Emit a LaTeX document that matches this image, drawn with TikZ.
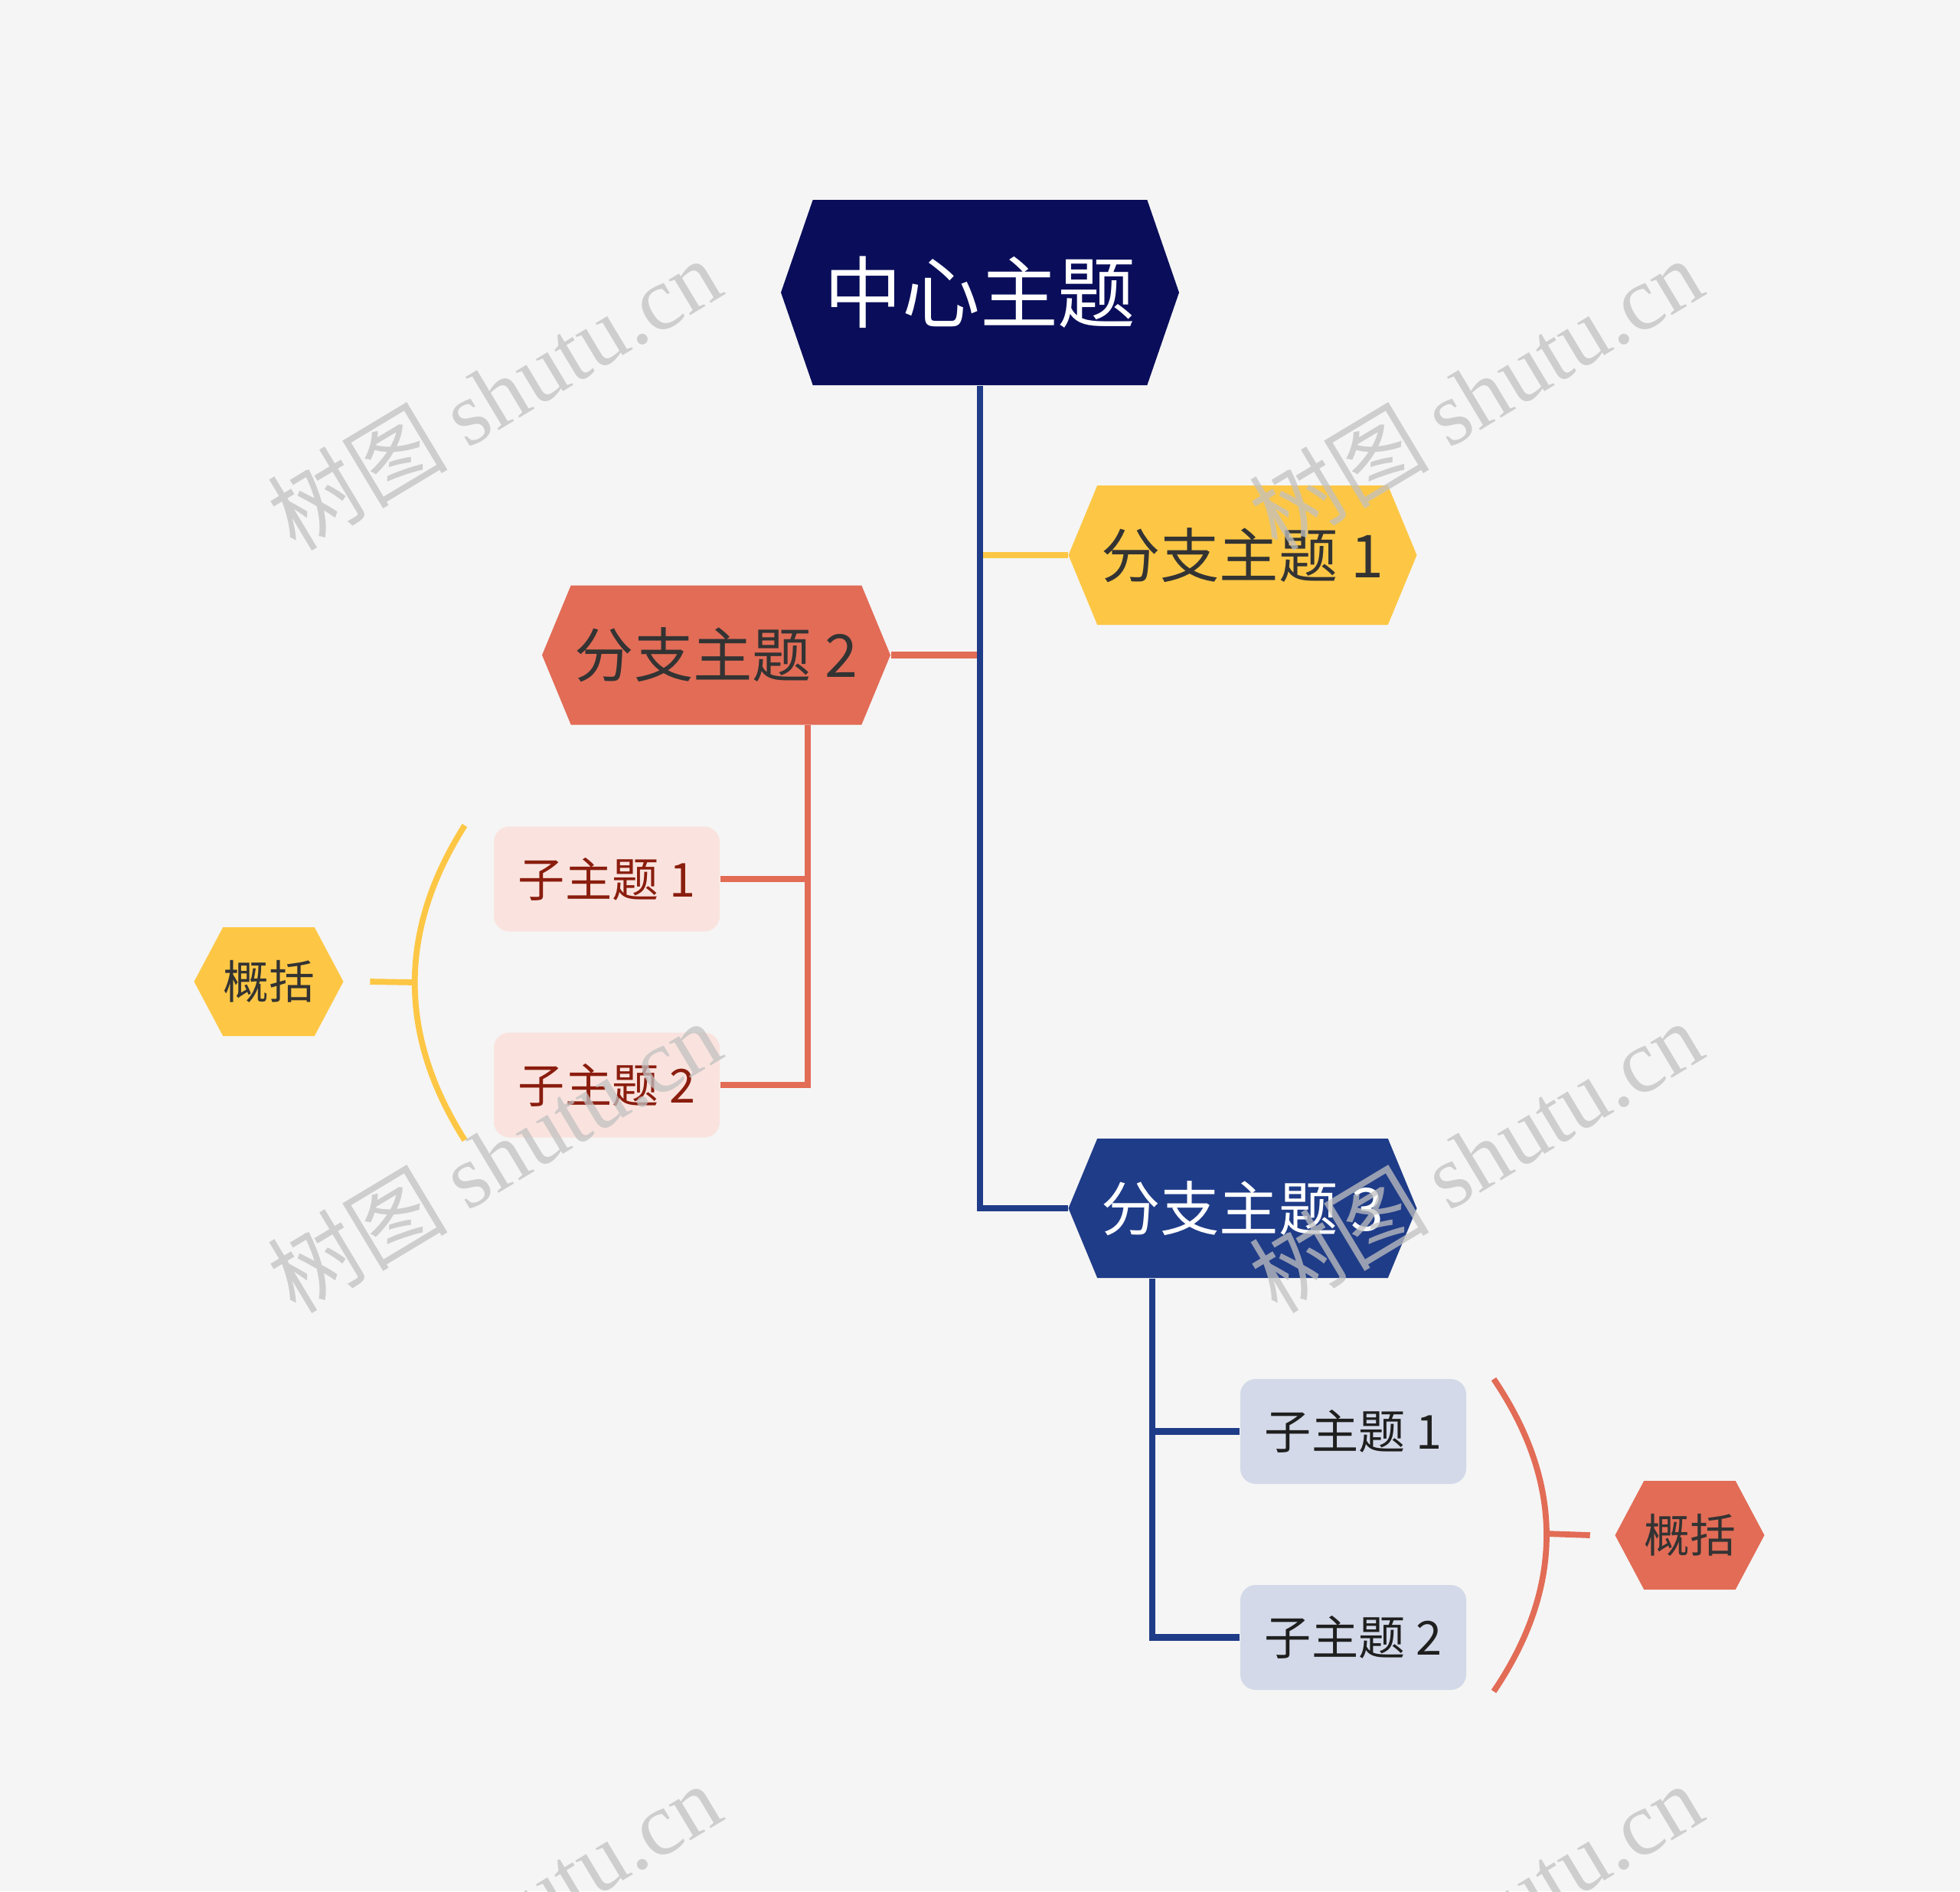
\documentclass[tikz,border=0pt]{standalone}
\usepackage{fontspec}
\setmainfont{Noto Sans CJK SC}
\newfontfamily\wmserif{Liberation Serif}
\usetikzlibrary{shapes.symbols,calc}

\definecolor{bgpage}{HTML}{F5F5F5}
\definecolor{navy}{HTML}{0A0E5A}
\definecolor{royal}{HTML}{1F3C88}
\definecolor{amber}{HTML}{FDC745}
\definecolor{coral}{HTML}{E26C56}
\definecolor{blush}{HTML}{FAE3DE}
\definecolor{mist}{HTML}{D3D9E8}
\definecolor{rust}{HTML}{8A1D0E}
\definecolor{ink}{HTML}{333333}
\definecolor{wmgray}{HTML}{C1C1C1}

\begin{document}
\begin{tikzpicture}[
  hexa/.style={signal, signal to=east and west, inner sep=0pt, draw=none},
  root/.style={hexa, fill=navy, text=white, minimum width=5.2cm, minimum height=2.42cm,
               signal pointer angle=142, font=\fontsize{29}{29}\selectfont},
  main/.style={hexa, minimum width=4.55cm, minimum height=1.82cm,
               signal pointer angle=135, font=\fontsize{22}{22}\selectfont},
  sub/.style={rectangle, rounded corners=0.2cm, minimum width=2.95cm, minimum height=1.37cm,
              inner sep=0pt, font=\fontsize{17.4}{17.4}\selectfont},
  sum/.style={hexa, minimum width=1.86cm, minimum height=1.42cm,
              signal pointer angle=124, text=ink, font=\fontsize{17}{17}\selectfont},
  ln/.style={line width=2.5pt},
  brace/.style={line width=2.2pt},
  wmark/.style={text=wmgray, text opacity=0.75, rotate=31, inner sep=0pt,
                font=\fontsize{33.5}{33.5}\selectfont}
]
\clip (0,0) rectangle (25.6,-24.7);
\fill[bgpage] (0,0) rectangle (25.6,-24.7);

% topics
\node[root] (hub) at (12.80,-3.82) {中心主题};
\node[main, fill=amber, text=ink]   (b1) at (16.23,-7.25)  {分支主题 1};
\node[main, fill=coral, text=ink]   (b2) at (9.355,-8.555) {分支主题 2};
\node[main, fill=royal, text=white] (b3) at (16.23,-15.78) {分支主题 3};

\node[sub, fill=blush, text=rust]    (b2k1) at (7.925,-11.48)  {子主题 1};
\node[sub, fill=blush, text=rust]    (b2k2) at (7.925,-14.17)  {子主题 2};
\node[sub, fill=mist, text=black!88] (b3k1) at (17.675,-18.695) {子主题 1};
\node[sub, fill=mist, text=black!88] (b3k2) at (17.675,-21.385) {子主题 2};

\node[sum, fill=amber] (s2) at (3.51,-12.82) {概括};
\node[sum, fill=coral] (s3) at (22.07,-20.05) {概括};

% trunk
\draw[ln, amber] (hub.south |- b1.west) -- (b1.west);
\draw[ln, coral] (b2.east) -- (hub.south |- b2.east);
\draw[ln, royal] (hub.south) |- (b3.west);

% sub branches
\coordinate (spine2) at (10.55,0);
\coordinate (spine3) at (15.05,0);
\draw[ln, coral] (b2.south -| spine2) |- (b2k2.east);
\draw[ln, coral] (b2k1.east) -- (b2k1.east -| spine2);
\draw[ln, royal] (b3.south -| spine3) |- (b3k2.west);
\draw[ln, royal] (spine3 |- b3k1.west) -- (b3k1.west);

% summaries
\coordinate (br2) at (5.42,-12.83);
\coordinate (br3) at (20.20,-20.03);
\draw[brace, amber] (6.07,-10.78) .. controls (5.20,-12.15) and (5.20,-13.52) .. (6.07,-14.89);
\draw[brace, amber] (br2) -- ([xshift=0.34cm]s2.east);
\draw[brace, coral] (19.51,-18.01) .. controls (20.43,-19.37) and (20.43,-20.73) .. (19.51,-22.09);
\draw[brace, coral] (br3) -- ([xshift=-0.32cm]s3.west);

% watermark
\foreach \wx/\wy [count=\i] in {6.45/-5.14, 19.27/-5.14, 6.45/-15.10, 19.27/-15.10, 6.45/-25.06, 19.27/-25.06}
  \node[wmark] (wm\i) at (\wx,\wy) {树图 {\wmserif shutu.cn}};
\end{tikzpicture}
\end{document}
